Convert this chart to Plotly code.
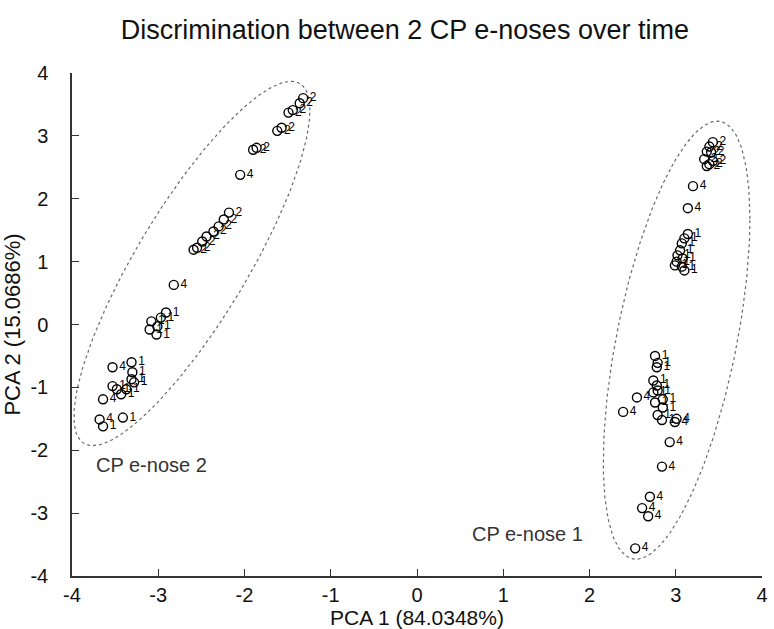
import numpy as np
import plotly.graph_objects as go

# PCA scores, CP e-nose 2 (left group)
pc1_nose2 = [-1.32, -1.36, -1.44, -1.49, -1.57, -1.62, -1.86, -1.90, -2.05,
             -2.18, -2.24, -2.30, -2.36, -2.44, -2.49, -2.55, -2.59, -2.82,
             -2.91, -2.97, -3.01, -3.10, -3.02, -3.08, -3.31, -3.30, -3.31,
             -3.28, -3.53, -3.48, -3.43, -3.53, -3.37, -3.64, -3.68, -3.64, -3.41]
pc2_nose2 = [3.60, 3.52, 3.41, 3.37, 3.13, 3.08, 2.81, 2.78, 2.38,
             1.78, 1.67, 1.56, 1.48, 1.40, 1.32, 1.22, 1.19, 0.63,
             0.19, 0.11, -0.03, -0.08, -0.16, 0.05, -0.60, -0.76, -0.87,
             -0.92, -0.68, -1.03, -1.11, -0.98, -1.03, -1.19, -1.51, -1.62, -1.48]
# sample tag written on each point
tag_nose2 = ["2", "2", "2", "2", "2", "2", "2", "2", "4",
             "2", "2", "2", "2", "2", "2", "2", "2", "4",
             "1", "1", "1", "1", "1", "1", "1", "1", "1",
             "1", "4", "1", "1", "1", "1", "4", "4", "1", "1"]

# PCA scores, CP e-nose 1 (right group)
pc1_nose1 = [3.43, 3.39, 3.36, 3.41, 3.33, 3.43, 3.36, 3.39,
             3.20, 3.14,
             3.14, 3.10, 3.07, 3.05, 3.02, 3.08, 3.01, 3.07, 2.99, 3.10,
             2.76, 2.79, 2.78, 2.74, 2.78, 2.74, 2.79, 2.85, 2.76, 2.85,
             2.79, 2.84, 2.99, 3.01,
             2.55, 2.39, 2.93, 2.84, 2.70, 2.61, 2.68, 2.53]
pc2_nose1 = [2.90, 2.83, 2.75, 2.74, 2.63, 2.60, 2.52, 2.55,
             2.20, 1.85,
             1.44, 1.37, 1.29, 1.18, 1.10, 1.05, 1.00, 0.92, 0.94, 0.86,
             -0.50, -0.61, -0.68, -0.89, -0.97, -1.08, -1.05, -1.19, -1.24, -1.32,
             -1.44, -1.52, -1.55, -1.50,
             -1.16, -1.39, -1.87, -2.26, -2.74, -2.92, -3.05, -3.56]
tag_nose1 = ["2", "2", "2", "2", "2", "2", "2", "2",
             "4", "4",
             "1", "1", "1", "1", "1", "1", "1", "1", "1", "1",
             "1", "1", "1", "1", "1", "1", "1", "1", "1", "1",
             "1", "1", "4", "4",
             "4", "4", "4", "4", "4", "4", "4", "4"]

axis_ticks = [-4, -3, -2, -1, 0, 1, 2, 3, 4]

# Confidence ellipses: centre plus the two conjugate half-axis vectors
ellipse_nose2 = dict(cx=-2.61, cy=0.97, ax=1.368, ay=2.435, by=1.57)
ellipse_nose1 = dict(cx=3.01, cy=-0.25, ax=0.85, ay=1.93, by=2.90)

FONT = "Liberation Sans, Arial"


def ellipse_path(e, n=240):
    t = np.linspace(0, 2 * np.pi, n)
    x = e["cx"] + e["ax"] * np.cos(t)
    y = e["cy"] + e["ay"] * np.cos(t) + e["by"] * np.sin(t)
    return x, y


fig = go.Figure()

for e in (ellipse_nose2, ellipse_nose1):
    ex, ey = ellipse_path(e)
    fig.add_trace(go.Scatter(x=ex, y=ey, mode="lines",
                             line=dict(color="#6a6a6a", width=1.2, dash="dot"),
                             hoverinfo="skip", showlegend=False))

for xs, ys, tags in ((pc1_nose2, pc2_nose2, tag_nose2),
                     (pc1_nose1, pc2_nose1, tag_nose1)):
    fig.add_trace(go.Scatter(
        x=xs, y=ys, mode="markers+text", text=tags,
        textposition="middle right",
        textfont=dict(family=FONT, size=12, color="black"),
        marker=dict(symbol="circle-open", size=9, color="black",
                    line=dict(width=1.4, color="black")),
        showlegend=False))

for x0, y0, label in ((-3.74, -2.24, "CP e-nose 2"), (0.62, -3.33, "CP e-nose 1")):
    fig.add_annotation(x=x0, y=y0, text=label, showarrow=False,
                       xanchor="left", yanchor="middle",
                       font=dict(family=FONT, size=20, color="#333"))

axis_common = dict(
    range=[-4, 4], tickvals=axis_ticks, ticktext=[str(v) for v in axis_ticks],
    showgrid=False, zeroline=False, showline=True, linecolor="#333",
    linewidth=1.5, ticks="inside", ticklen=7, tickwidth=1.3, tickcolor="#333",
    mirror=False, tickfont=dict(family=FONT, size=20, color="#111"),
)

fig.update_layout(
    width=774, height=629,
    margin=dict(l=72, r=6, t=73, b=52),
    paper_bgcolor="white", plot_bgcolor="white",
    title=dict(text="Discrimination between 2 CP e-noses over time",
               x=0.523, xanchor="center", y=0.953, yanchor="middle",
               font=dict(family=FONT, size=27, color="#111")),
    xaxis=dict(**axis_common,
               title=dict(text="PCA 1 (84.0348%)", standoff=3,
                          font=dict(family=FONT, size=21, color="#111"))),
    yaxis=dict(**axis_common, ticklabelstandoff=18,
               title=dict(text="PCA 2 (15.0686%)", standoff=4,
                          font=dict(family=FONT, size=22, color="#111"))),
)

fig.write_html("out.html")
